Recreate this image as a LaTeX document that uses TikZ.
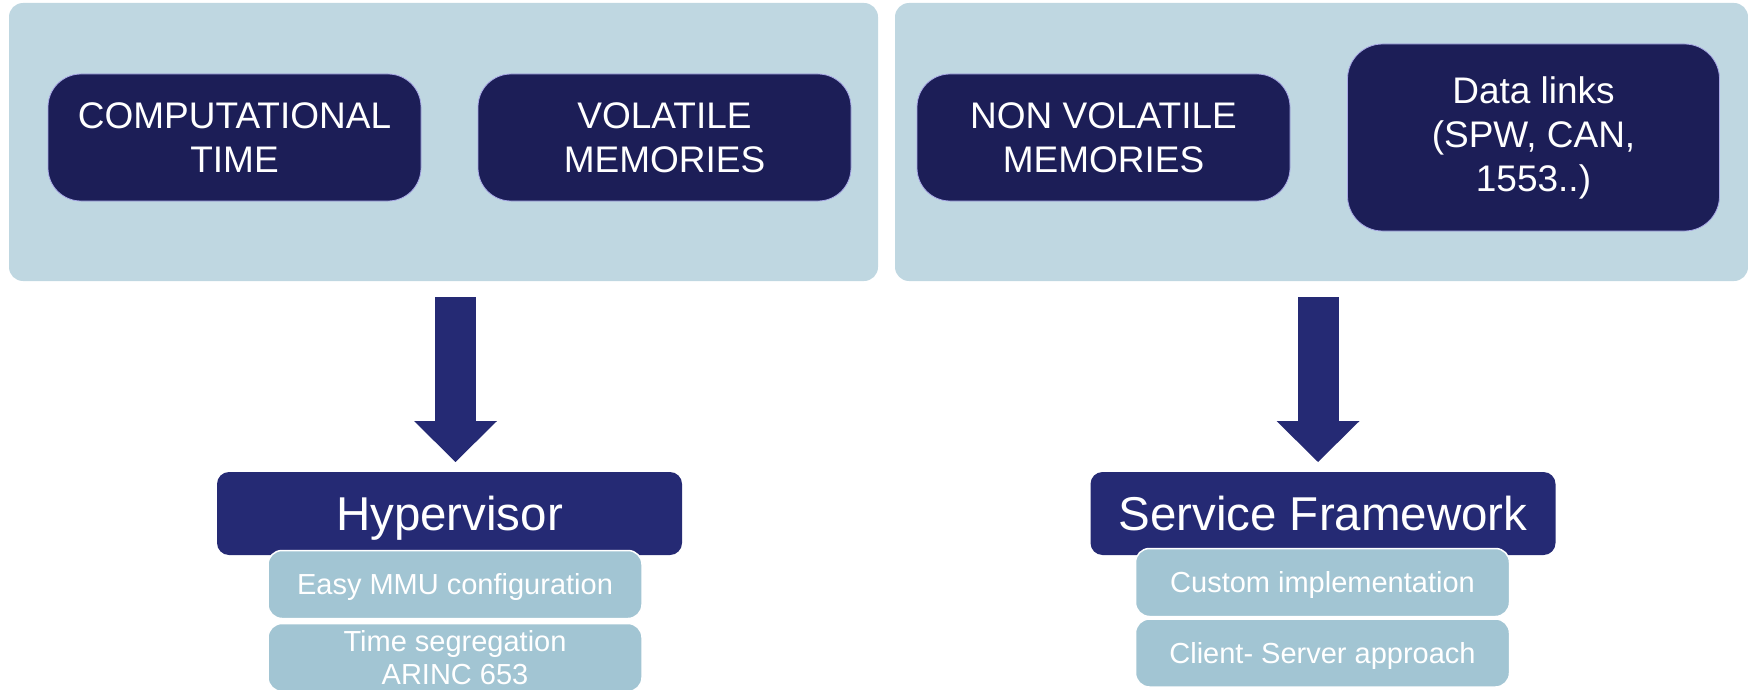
\documentclass[tikz,border=0pt]{standalone}
\usepackage{fontspec}
\setmainfont{Liberation Sans}
\usepackage{tikz}
\usetikzlibrary{arrows.meta}

\definecolor{panelblue}{HTML}{BFD7E1}
\definecolor{darkbox}{HTML}{1C1E57}
\definecolor{navy}{HTML}{252A74}
\definecolor{subblue}{HTML}{A2C5D3}
\definecolor{rim}{HTML}{A9A9E6}

\begin{document}
\begin{tikzpicture}[x=1pt,y=-1pt,
	panel/.style={rectangle, rounded corners=14pt, fill=panelblue, minimum height=278pt, inner sep=0pt},
	item/.style={rectangle, rounded corners=33pt, fill=darkbox, draw=rim, line width=0.8pt, text=white, align=center, minimum width=373pt, minimum height=127pt, font=\fontsize{37}{44}\selectfont},
	head/.style={rectangle, rounded corners=12pt, fill=navy, text=white, minimum width=465pt, minimum height=83pt, text height=34pt, text depth=0pt, font=\fontsize{47.5}{57}\selectfont},
	feature/.style={rectangle, rounded corners=14pt, fill=subblue, draw=white, line width=1.5pt, text=white, align=center, minimum width=374pt, minimum height=68pt, font=\fontsize{29}{33}\selectfont},
	oneline/.style={text height=20.8pt, text depth=0pt},
	blockarrow/.style={navy, line width=41pt, -{Triangle[length=41pt, width=83pt, line width=0pt]}}]
\useasboundingbox (0,0) rectangle (1748,690);

% resources
\node [panel, minimum width=869pt] (resL) at (443.5,142) {};
\node [panel, minimum width=853pt] (resR) at (1321.5,142) {};
\node [item] (cpu) at (234.5,137.5) {COMPUTATIONAL\\TIME};
\node [item] (ram) at (664.5,137.5) {VOLATILE\\MEMORIES};
\node [item] (nvm) at (1103.5,137.5) {NON VOLATILE\\MEMORIES};
\node [item, minimum width=372pt, minimum height=187pt, rounded corners=35pt] (links) at (1533.5,137.5) {Data links\\(SPW, CAN,\\1553..)};

% arrows
\coordinate (inL) at (455.5,297);
\coordinate (outL) at (455.5,462);
\coordinate (inR) at (1318,297);
\coordinate (outR) at (1318,462);
\draw [blockarrow] (inL) -- (outL);
\draw [blockarrow] (inR) -- (outR);

% solutions
\node [head] (hyp) at (449.5,513.5) {Hypervisor};
\node [feature, oneline] (mmu) at (455,584.5) {Easy MMU configuration};
\node [feature] (tsp) at (455,657.5) {Time segregation\\ARINC 653};
\node [head] (sfw) at (1323,513.5) {Service Framework};
\node [feature, oneline] (cust) at (1322.5,582.5) {Custom implementation};
\node [feature, oneline] (cs) at (1322.5,653) {Client- Server approach};
\end{tikzpicture}
\end{document}
